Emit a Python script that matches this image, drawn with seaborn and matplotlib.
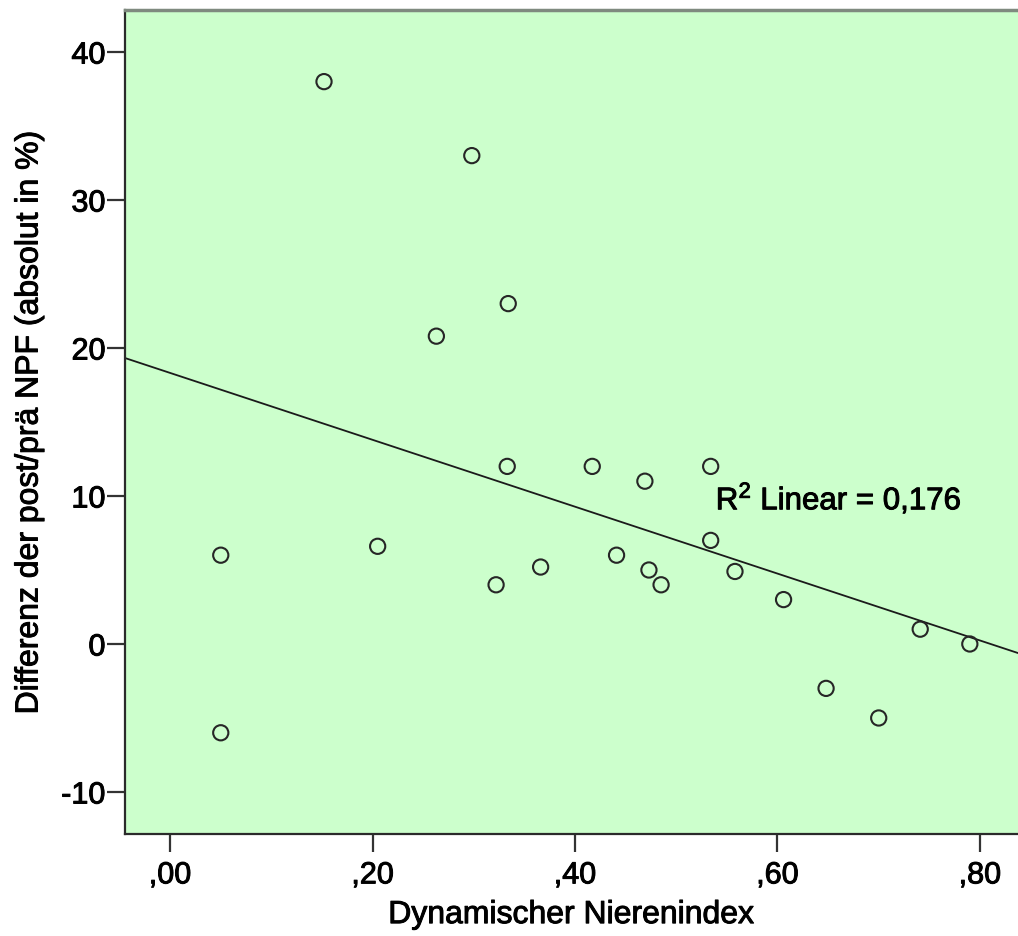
import numpy as np
import pandas as pd
import matplotlib
matplotlib.use("Agg")
import matplotlib.pyplot as plt
import matplotlib.patheffects as pe
import seaborn as sns

# Dynamic kidney index vs. change in split renal function (post - pre)
nierenindex = [0.050, 0.050, 0.152, 0.205, 0.263, 0.298, 0.322, 0.333, 0.334,
               0.366, 0.417, 0.441, 0.469, 0.473, 0.485, 0.534, 0.534, 0.558,
               0.606, 0.648, 0.700, 0.741, 0.790]
npf_diff = [6.0, -6.0, 38.0, 6.6, 20.8, 33.0, 4.0, 12.0, 23.0,
            5.2, 12.0, 6.0, 11.0, 5.0, 4.0, 12.0, 7.0, 4.9,
            3.0, -3.0, -5.0, 1.0, 0.0]

x_ticks = [0.0, 0.2, 0.4, 0.6, 0.8]
x_ticklabels = [",00", ",20", ",40", ",60", ",80"]
y_ticks = [-10, 0, 10, 20, 30, 40]
y_ticklabels = ["-10", "0", "10", "20", "30", "40"]
fit_label = "R$^{2}$ Linear = 0,176"

df = pd.DataFrame({"Dynamischer Nierenindex": nierenindex,
                   "Differenz": npf_diff})

sns.set_theme(style="white")
plt.rcParams["font.family"] = ["Liberation Sans", "DejaVu Sans"]
plt.rcParams["mathtext.fontset"] = "custom"
plt.rcParams["mathtext.rm"] = "Liberation Sans"
plt.rcParams["mathtext.it"] = "Liberation Sans"

# slightly heavier glyph strokes
heavy = [pe.withStroke(linewidth=0.7, foreground="black")]

fig = plt.figure(figsize=(10.18, 9.37), dpi=100)
fig.patch.set_facecolor("white")
ax = fig.add_axes([125 / 1018, 1 - 835 / 937, (1018 - 125) / 1018, (835 - 11) / 937])
ax.set_facecolor("#CCFFCC")

ax.set_xlim(-0.0446, 0.8376)
ax.set_ylim(-12.84, 42.84)

sns.scatterplot(data=df, x="Dynamischer Nierenindex", y="Differenz", ax=ax,
                marker="o", s=120, facecolors="none", edgecolor="#262626",
                linewidth=1.5, zorder=3)

sns.regplot(data=df, x="Dynamischer Nierenindex", y="Differenz", ax=ax,
            scatter=False, ci=None, truncate=False,
            line_kws={"color": "#1a1a1a", "linewidth": 1.3, "zorder": 2})

ax.text(0.539, 9.1, fit_label, fontsize=22.5, color="black",
        ha="left", va="baseline", zorder=4, path_effects=heavy)

ax.set_xticks(x_ticks)
ax.set_xticklabels(x_ticklabels)
ax.set_yticks(y_ticks)
ax.set_yticklabels(y_ticklabels)
ax.tick_params(axis="both", which="major", direction="out", length=13,
               width=1.6, color="#333333", labelsize=22, labelcolor="black",
               bottom=True, left=True, top=False, right=False)
ax.tick_params(axis="x", pad=6)
ax.tick_params(axis="y", pad=1)
for lbl in ax.get_xticklabels() + ax.get_yticklabels():
    lbl.set_path_effects(heavy)

ax.set_xlabel("Dynamischer Nierenindex", fontsize=23, color="black",
              labelpad=7, path_effects=heavy)
ax.set_ylabel("Differenz der post/prä NPF (absolut in %)", fontsize=23,
              color="black", labelpad=12, path_effects=heavy)

for side in ["left", "bottom"]:
    ax.spines[side].set_color("#2b2b2b")
    ax.spines[side].set_linewidth(1.6)
ax.spines["top"].set_color("#7f8a7f")
ax.spines["top"].set_linewidth(2.5)
ax.spines["right"].set_visible(False)
ax.grid(False)

fig.savefig("out.png", dpi=100, facecolor="white")
